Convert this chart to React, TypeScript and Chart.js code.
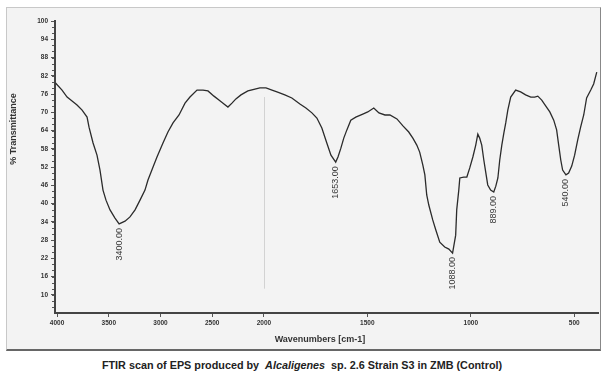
import React, { useEffect, useRef } from "react";
import { Chart, registerables } from "chart.js";

Chart.register(...registerables);

// Wavenumber (cm-1) and % transmittance
const wavenumbers = [
  4015, 3952, 3903, 3855, 3807, 3758, 3710, 3691, 3652, 3614, 3585, 3556, 3527, 3488, 3440, 3400,
  3343, 3295, 3246, 3198, 3150, 3121, 3072, 3034, 2976, 2928, 2879, 2821, 2763, 2715, 2647, 2589,
  2541, 2483, 2435, 2386, 2348, 2309, 2271, 2222, 2155, 2087, 2039, 1990, 1961, 1937, 1899, 1865,
  1826, 1797, 1768, 1744, 1720, 1696, 1676, 1653, 1642, 1628, 1614, 1599, 1580, 1556, 1522, 1498,
  1469, 1444, 1415, 1391, 1357, 1328, 1300, 1280, 1261, 1247, 1232, 1222, 1213, 1203, 1184, 1169,
  1150, 1126, 1106, 1088, 1073, 1068, 1058, 1053, 1034, 1019, 1005, 990, 976, 966, 957, 947,
  937, 928, 918, 904, 889, 879, 869, 860, 850, 840, 831, 821, 807, 783, 759, 735,
  710, 691, 676, 657, 638, 618, 599, 585, 575, 565, 556, 540, 527, 512, 498, 483,
  469, 454, 440, 420, 406, 391,
];
const transmittance = [
  79.6, 77.3, 75.0, 73.7, 72.4, 70.7, 68.4, 65.1, 59.9, 55.9, 51.0, 44.4, 41.1, 37.9, 35.2, 33.3,
  34.2, 35.6, 37.9, 41.1, 44.4, 47.7, 52.0, 55.3, 59.9, 63.5, 66.5, 69.1, 73.0, 75.0, 77.3, 77.3,
  77.0, 75.3, 74.0, 72.7, 71.7, 73.0, 74.4, 75.7, 77.0, 77.6, 78.0, 78.0, 77.3, 76.7, 75.7, 74.7,
  72.7, 71.4, 69.8, 68.1, 64.8, 59.9, 55.9, 53.6, 55.3, 58.2, 61.5, 64.2, 67.4, 68.4, 69.4, 70.1,
  71.4, 69.8, 69.1, 69.1, 67.8, 65.5, 63.5, 61.5, 59.2, 56.9, 52.7, 49.4, 42.8, 39.5, 34.6, 31.3,
  27.3, 25.7, 25.0, 23.7, 29.6, 37.9, 44.4, 48.4, 48.7, 48.7, 51.7, 55.3, 59.2, 62.8, 61.5, 59.2,
  54.3, 50.4, 46.1, 44.4, 43.8, 45.7, 48.4, 54.3, 59.2, 63.2, 66.5, 70.7, 75.0, 77.3, 76.7, 75.7,
  75.0, 75.0, 75.3, 74.0, 72.1, 70.1, 67.4, 64.2, 59.2, 54.3, 51.0, 49.4, 50.0, 52.3, 55.9, 60.9,
  65.1, 69.1, 74.7, 77.3, 79.3, 83.2,
];

const xTickWavenumbers = [4000, 3500, 3000, 2500, 2000, 1500, 1000, 500];
const yTickValues = [10, 16, 22, 28, 34, 40, 46, 52, 58, 64, 70, 76, 82, 88, 94, 100];
const peakWavenumbers = [3400, 1653, 1088, 889, 540];
const peakLabels = ["3400.00", "1653.00", "1088.00", "889.00", "540.00"];

const xTitle = "Wavenumbers [cm-1]";
const yTitle = "% Transmittance";

// FTIR axis: 4000-2000 compressed, 2000-400 expanded two-fold
const toAxis = (w: number) => (w >= 2000 ? 4000 - w : 2000 + 2 * (2000 - w));
const fromAxis = (u: number) => (u <= 2000 ? 4000 - u : 2000 - (u - 2000) / 2);

const W = 593;
const H = 341;

const decorations = {
  id: "ftirDecorations",
  afterDatasetsDraw(chart: any) {
    const { ctx, scales } = chart;
    const xs = scales.x;
    const ys = scales.y;
    ctx.save();
    // faint scale-change line at 2000
    ctx.strokeStyle = "rgba(170,170,170,0.45)";
    ctx.lineWidth = 1;
    ctx.beginPath();
    const bx = Math.round(xs.getPixelForValue(toAxis(2000))) + 0.5;
    ctx.moveTo(bx, ys.getPixelForValue(75));
    ctx.lineTo(bx, ys.getPixelForValue(12));
    ctx.stroke();

    // minor ticks on y axis
    ctx.strokeStyle = "#555";
    ctx.lineWidth = 1;
    for (let v = 6; v < 100; v += 2) {
      const y = Math.round(ys.getPixelForValue(v)) + 0.5;
      ctx.beginPath();
      ctx.moveTo(xs.left - 1, y);
      ctx.lineTo(xs.left - 3, y);
      ctx.stroke();
    }

    // peak labels
    ctx.fillStyle = "#3a3a3a";
    ctx.font = "9px 'Liberation Sans', Arial, sans-serif";
    ctx.textAlign = "right";
    ctx.textBaseline = "middle";
    peakWavenumbers.forEach((p, i) => {
      const idx = wavenumbers.indexOf(p);
      const px = xs.getPixelForValue(toAxis(p));
      const py = ys.getPixelForValue(transmittance[idx]);
      ctx.save();
      ctx.translate(px, py + 4);
      ctx.rotate(-Math.PI / 2);
      ctx.fillText(peakLabels[i], 0, 0);
      ctx.restore();
    });

    // axis titles
    ctx.fillStyle = "#333";
    ctx.font = "bold 9px 'Liberation Sans', Arial, sans-serif";
    ctx.textAlign = "center";
    ctx.fillText(xTitle, 313, 332);
    ctx.save();
    ctx.translate(7, 121);
    ctx.rotate(-Math.PI / 2);
    ctx.fillText(yTitle, 0, 0);
    ctx.restore();
    ctx.restore();
  },
};

function FtirChart() {
  const ref = useRef<HTMLCanvasElement | null>(null);
  useEffect(() => {
    if (!ref.current) return;
    const data = wavenumbers.map((w, i) => ({ x: toAxis(w), y: transmittance[i] }));
    const chart = new Chart(ref.current, {
      type: "line",
      data: {
        datasets: [
          {
            data,
            borderColor: "#2b2b2b",
            borderWidth: 1.3,
            pointRadius: 0,
            tension: 0,
            fill: false,
          },
        ],
      },
      options: {
        animation: false,
        responsive: false,
        maintainAspectRatio: false,
        layout: { padding: { left: 0, right: 2, top: 13, bottom: 0 } },
        plugins: { legend: { display: false }, tooltip: { enabled: false } },
        scales: {
          x: {
            type: "linear",
            min: -20,
            max: 5230,
            afterBuildTicks: (scale: any) => {
              scale.ticks = xTickWavenumbers.map((w) => ({ value: toAxis(w) }));
            },
            afterFit: (scale: any) => {
              scale.height = 36;
            },
            ticks: {
              autoSkip: false,
              maxRotation: 0,
              padding: 2,
              color: "#333",
              font: { size: 6.5, weight: "bold", family: "'Liberation Sans', Arial, sans-serif" },
              callback: (v: any) => String(Math.round(fromAxis(Number(v)))),
            },
            grid: { drawOnChartArea: false, drawTicks: true, tickLength: 4, color: "#555" },
            border: { display: true, color: "#444", width: 2 },
          },
          y: {
            type: "linear",
            min: 4,
            max: 100,
            afterBuildTicks: (scale: any) => {
              scale.ticks = yTickValues.map((v) => ({ value: v }));
            },
            afterFit: (scale: any) => {
              scale.width = 48;
            },
            ticks: {
              autoSkip: false,
              padding: 3,
              color: "#333",
              font: { size: 6.5, weight: "bold", family: "'Liberation Sans', Arial, sans-serif" },
            },
            grid: { drawOnChartArea: false, drawTicks: true, tickLength: 4, color: "#555" },
            border: { display: true, color: "#444", width: 2 },
          },
        },
      },
      plugins: [decorations],
    } as any);
    return () => chart.destroy();
  }, []);
  return <canvas ref={ref} width={W} height={H} style={{ width: W, height: H, display: "block" }} />;
}

export default function App() {
  return (
    <div style={{ position: "absolute", left: 0, top: 0, width: 604, height: 383, background: "#fff", overflow: "hidden" }}>
      <div
        style={{
          position: "absolute",
          left: 6,
          top: 7,
          width: 595,
          height: 344,
          boxSizing: "border-box",
          background: "#f3f3f3",
          borderTop: "1px solid #c8c8c8",
          borderLeft: "1px solid #c8c8c8",
          borderRight: "1px solid #888",
          borderBottom: "2px solid #666",
        }}
      >
        <FtirChart />
      </div>
      <div
        style={{
          position: "absolute",
          left: 0,
          width: 604,
          top: 359,
          textAlign: "center",
          fontFamily: "'Liberation Sans', Arial, sans-serif",
          fontWeight: "bold",
          fontSize: 10.8,
          color: "#222",
          whiteSpace: "pre",
        }}
      >
        {"FTIR scan of EPS produced by  "}
        <i>Alcaligenes</i>
        {"  sp. 2.6 Strain S3 in ZMB (Control)"}
      </div>
    </div>
  );
}
